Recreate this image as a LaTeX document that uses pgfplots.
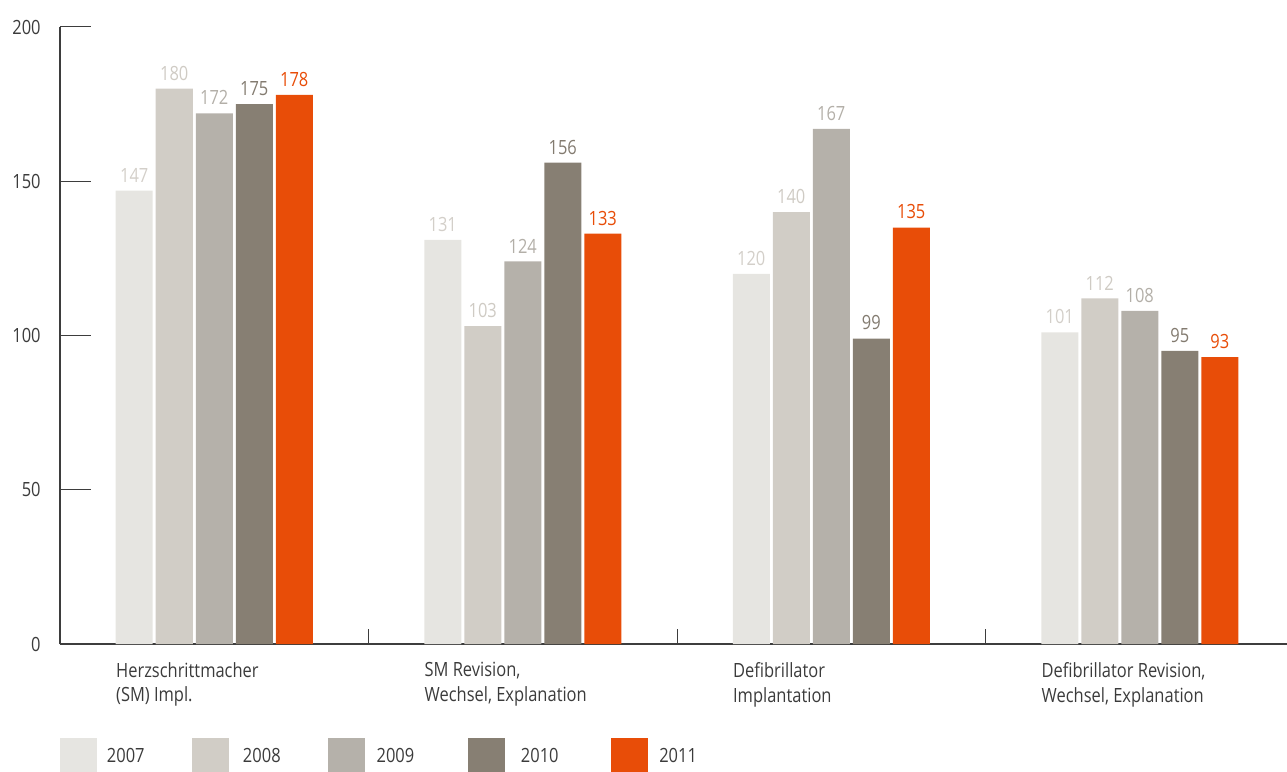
\documentclass[border=0pt]{standalone}
\usepackage{fontspec}
\setmainfont{Open Sans}[FakeStretch=0.84]
\usepackage{pgfplots}
\pgfplotsset{compat=1.18}

\definecolor{c2007}{HTML}{E6E5E1}
\definecolor{c2008}{HTML}{D1CDC6}
\definecolor{c2009}{HTML}{B5B1AA}
\definecolor{c2010}{HTML}{877F73}
\definecolor{c2011}{HTML}{E84D08}
\definecolor{l2007}{HTML}{D3CFC9}
\definecolor{l2008}{HTML}{CFCBC4}
\definecolor{l2009}{HTML}{B3AFA8}
\definecolor{l2010}{HTML}{837B70}
\definecolor{l2011}{HTML}{E84D08}
\definecolor{txt}{HTML}{3B3B3B}
\definecolor{axl}{HTML}{3D3D3D}

\newcommand{\chartfont}{\fontsize{9.8pt}{12.35pt}\selectfont}

\begin{document}
\begin{tikzpicture}
\begin{axis}[
  at={(0,0)}, anchor=south west,
  scale only axis,
  width=613.5pt, height=308.5pt,
  xmin=-0.5, xmax=3.4773,
  ymin=0, ymax=200,
  axis lines*=left,
  axis line style={axl, line width=0.65pt},
  ybar=1.5pt, bar width=18.5pt,
  tick align=inside,
  /pgf/number format/assume math mode=true,
  ytick={0,50,100,150,200},
  ytick style={axl, line width=0.5pt},
  major tick length=15.5pt,
  yticklabel style={font=\chartfont, text=txt, inner sep=0pt, xshift=-9.5pt},
  xtick={0.5,1.5,2.5},
  xticklabels={},
  xtick style={axl, line width=0.5pt, /pgfplots/major tick length=7.5pt},
  extra x ticks={0,1,2,3},
  extra x tick labels={{Herzschrittmacher\\(SM) Impl.},
                       {SM Revision,\\Wechsel, Explanation},
                       {Defibrillator\\Implantation},
                       {Defibrillator Revision,\\Wechsel, Explanation}},
  extra x tick style={
    xtick style={draw=none},
    xticklabel style={font=\chartfont, text=txt, align=left,
      anchor=north west, inner sep=0pt, xshift=-49.25pt, yshift=-9pt}},
  nodes near coords,
  every node near coord/.append style={font=\chartfont, inner sep=0pt, yshift=4pt},
  legend columns=5,
  legend style={at={(0,0)}, anchor=north west, yshift=-47pt,
    draw=none, fill=none, inner sep=0pt, outer sep=0pt,
    font=\chartfont, text=txt,
    nodes={inner sep=0pt, outer sep=0pt},
    /tikz/column sep=0pt},
  legend image code/.code={\fill[#1] (0pt,-9.25pt) rectangle (18.5pt,9.25pt);},
]
\addplot[fill=c2007, draw=none, every node near coord/.append style={text=l2007}]
  coordinates {(0,147) (1,131) (2,120) (3,101)};
\addlegendentry{\makebox[47.5pt][l]{\hspace{5pt}2007}}
\addplot[fill=c2008, draw=none, every node near coord/.append style={text=l2008}]
  coordinates {(0,180) (1,103) (2,140) (3,112)};
\addlegendentry{\makebox[49.3pt][l]{\hspace{7pt}2008}}
\addplot[fill=c2009, draw=none, every node near coord/.append style={text=l2009}]
  coordinates {(0,172) (1,124) (2,167) (3,108)};
\addlegendentry{\makebox[51.85pt][l]{\hspace{6pt}2009}}
\addplot[fill=c2010, draw=none, every node near coord/.append style={text=l2010}]
  coordinates {(0,175) (1,156) (2,99) (3,95)};
\addlegendentry{\makebox[52.85pt][l]{\hspace{7.85pt}2010}}
\addplot[fill=c2011, draw=none, every node near coord/.append style={text=l2011}]
  coordinates {(0,178) (1,133) (2,135) (3,93)};
\addlegendentry{\makebox[30pt][l]{\hspace{5.65pt}2011}}
\end{axis}
\pgfresetboundingbox
\path (-30pt,-64pt) rectangle (613.5pt,322pt);
\end{tikzpicture}
\end{document}
